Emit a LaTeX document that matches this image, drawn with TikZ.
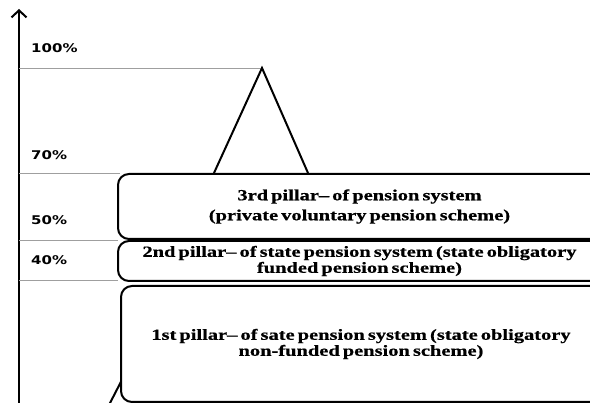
\documentclass[tikz,border=0pt]{standalone}
\usepackage{fontspec}
\setmainfont{Liberation Serif}
\newfontfamily\pillarfont{Liberation Serif}[FakeStretch=1.32,WordSpace=0.6,FakeBold=0.6]
\newfontfamily\pctfont{DejaVu Sans}[FakeStretch=1.25]
\usetikzlibrary{arrows.meta}

\begin{document}
\begin{tikzpicture}[x=1pt,y=-1pt,
    gridline/.style={draw=gray!75,line width=0.8pt},
    pillarbox/.style={draw,line width=2pt,rounded corners=11pt,fill=white,
      anchor=north west,inner sep=0pt,align=center,
      font=\pillarfont\bfseries\fontsize{15.5}{16}\selectfont},
    pctlabel/.style={anchor=base west,inner sep=0pt,
      font=\pctfont\bfseries\fontsize{12}{12}\selectfont}]
  \useasboundingbox (0,0) rectangle (590,403);
  % axis
  \coordinate (axisbot) at (19,405);
  \coordinate (axistop) at (19,9);
  \draw[line width=2.2pt,-{Straight Barb[length=7pt,width=15pt,line width=2pt]}] (axisbot) -- (axistop);
  % levels
  \foreach \y/\xe in {68/262,173/120,240/118,280/118} {
    \draw[gridline] (19,\y) -- (\xe,\y);
  }
  \node[pctlabel] (p100) at (31,53) {100\%};
  \node[pctlabel] (p70) at (31,160) {70\%};
  \node[pctlabel] (p50) at (31,225) {50\%};
  \node[pctlabel] (p40) at (31,265) {40\%};
  % pyramid
  \draw[line width=2pt] (214,173) -- (262,68) -- (308,173);
  \draw[line width=2pt] (126,372) -- (109,405);
  \draw[line width=2pt] (578,385) -- (592,405);
  % pillars
  \node[pillarbox,minimum width=483pt,minimum height=65pt] (third) at (117,173)
    {3rd pillar– of pension system\\[4pt](private voluntary pension scheme)};
  \node[pillarbox,minimum width=483pt,minimum height=40pt] (second) at (117,240)
    {2nd pillar– of state pension system (state obligatory\\funded pension scheme)};
  \node[pillarbox,minimum width=480pt,minimum height=116pt] (first) at (120,285)
    {1st pillar– of sate pension system (state obligatory\\non-funded pension scheme)};
\end{tikzpicture}
\end{document}
